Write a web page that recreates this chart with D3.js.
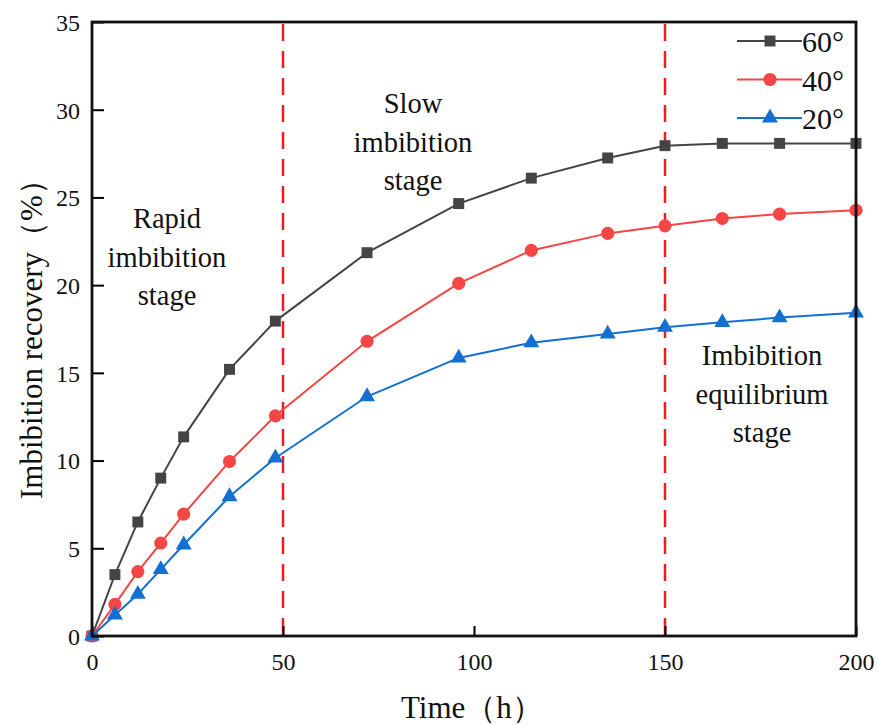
<!DOCTYPE html>
<html>
<head>
<meta charset="utf-8">
<script src="https://cdn.jsdelivr.net/npm/d3@7"></script>
<style>
  html, body { margin: 0; padding: 0; background: #fff; }
  svg { display: block; }
  svg text { font-family: "Liberation Serif", "Times New Roman", serif; }
</style>
</head>
<body>
<svg id="chart" width="878" height="725"></svg>
<script>
// Imbibition time (h)
const hours = [0, 6, 12, 18, 24, 36, 48, 72, 96, 115, 135, 150, 165, 180, 200];
// Imbibition recovery (%) for each contact angle
const rec60 = [0, 3.5, 6.5, 9.0, 11.35, 15.2, 17.95, 21.85, 24.65, 26.1, 27.25, 27.95, 28.08, 28.08, 28.08];
const rec40 = [0, 1.8, 3.67, 5.3, 6.95, 9.95, 12.55, 16.8, 20.1, 21.98, 22.95, 23.38, 23.8, 24.05, 24.27];
const rec20 = [0, 1.2, 2.38, 3.8, 5.2, 7.95, 10.15, 13.65, 15.85, 16.72, 17.22, 17.6, 17.88, 18.15, 18.42];
const seriesNames = ["60°", "40°", "20°"];
const xTicks = [0, 50, 100, 150, 200];
const yTicks = [0, 5, 10, 15, 20, 25, 30, 35];
const stageBounds = [50, 150];

const series = [
  { name: seriesNames[0], values: rec60, color: "#444444", symbol: d3.symbolSquare, size: 120 },
  { name: seriesNames[1], values: rec40, color: "#f54646", symbol: d3.symbolCircle, size: 135 },
  { name: seriesNames[2], values: rec20, color: "#1270d2", symbol: d3.symbolTriangle, size: 110 }
];

const svg = d3.select("#chart");
const plotL = 92, plotR = 856, plotT = 22, plotB = 636;

const x = d3.scaleLinear().domain([0, 200]).range([plotL, plotR]);
const y = d3.scaleLinear().domain([0, 35]).range([plotB, plotT]);

// stage boundaries
svg.append("g").selectAll("line").data(stageBounds).join("line")
  .attr("x1", d => x(d)).attr("x2", d => x(d))
  .attr("y1", plotT + 2).attr("y2", plotB)
  .attr("stroke", "#ee1c24").attr("stroke-width", 2.5)
  .attr("stroke-dasharray", "17,10");

// series lines and markers
const line = d3.line().x((d, i) => x(hours[i])).y(d => y(d));
series.forEach(s => {
  svg.append("path").datum(s.values)
    .attr("d", line).attr("fill", "none")
    .attr("stroke", s.color).attr("stroke-width", 2);
  svg.append("g").selectAll("path").data(s.values).join("path")
    .attr("transform", (d, i) => `translate(${x(hours[i])},${y(d)})`)
    .attr("d", d3.symbol().type(s.symbol).size(s.size))
    .attr("fill", s.color);
});

// axes with inward ticks
const xAxis = svg.append("g").attr("transform", `translate(0,${plotB})`)
  .call(d3.axisBottom(x).tickValues(xTicks).tickSizeInner(-10).tickSizeOuter(0).tickPadding(17));
const yAxis = svg.append("g").attr("transform", `translate(${plotL},0)`)
  .call(d3.axisLeft(y).tickValues(yTicks).tickSizeInner(-12).tickSizeOuter(0).tickPadding(12));
[xAxis, yAxis].forEach(a => {
  a.attr("font-family", null);
  a.select(".domain").remove();
  a.selectAll(".tick line").attr("stroke", "#000").attr("stroke-width", 2);
  a.selectAll(".tick text").attr("font-size", 24).attr("fill", "#111");
});
xAxis.selectAll(".tick text").attr("dy", "0.71em");
yAxis.selectAll(".tick text").attr("dy", "0.35em");

// frame
svg.append("rect").attr("x", plotL).attr("y", plotT)
  .attr("width", plotR - plotL).attr("height", plotB - plotT)
  .attr("fill", "none").attr("stroke", "#111").attr("stroke-width", 2.8);

// axis titles
svg.append("text").attr("x", 401).attr("y", 718)
  .attr("font-size", 31).attr("fill", "#111")
  .text("Time（h）");
svg.append("text")
  .attr("transform", "translate(42,499) rotate(-90)")
  .attr("font-size", 31).attr("fill", "#111")
  .text("Imbibition recovery（%）");

// stage annotations
const stageNotes = [
  { cx: 167, y0: 228, lines: ["Rapid", "imbibition", "stage"] },
  { cx: 413, y0: 113, lines: ["Slow", "imbibition", "stage"] },
  { cx: 762, y0: 365, lines: ["Imbibition", "equilibrium", "stage"] }
];
stageNotes.forEach(n => {
  const t = svg.append("text").attr("text-anchor", "middle")
    .attr("font-size", 28.5).attr("fill", "#111");
  n.lines.forEach((l, i) => {
    t.append("tspan").attr("x", n.cx).attr("y", n.y0 + i * 38.5).text(l);
  });
});

// legend
const legend = svg.append("g");
series.forEach((s, i) => {
  const ly = 41 + i * 38.5;
  legend.append("line").attr("x1", 737).attr("x2", 802)
    .attr("y1", ly).attr("y2", ly).attr("stroke", s.color).attr("stroke-width", 2);
  legend.append("path").attr("transform", `translate(770,${ly})`)
    .attr("d", d3.symbol().type(s.symbol).size(s.size)).attr("fill", s.color);
  legend.append("text").attr("x", 802).attr("y", ly + 11)
    .attr("font-size", 30).attr("fill", "#111").text(s.name);
});
</script>
</body>
</html>
